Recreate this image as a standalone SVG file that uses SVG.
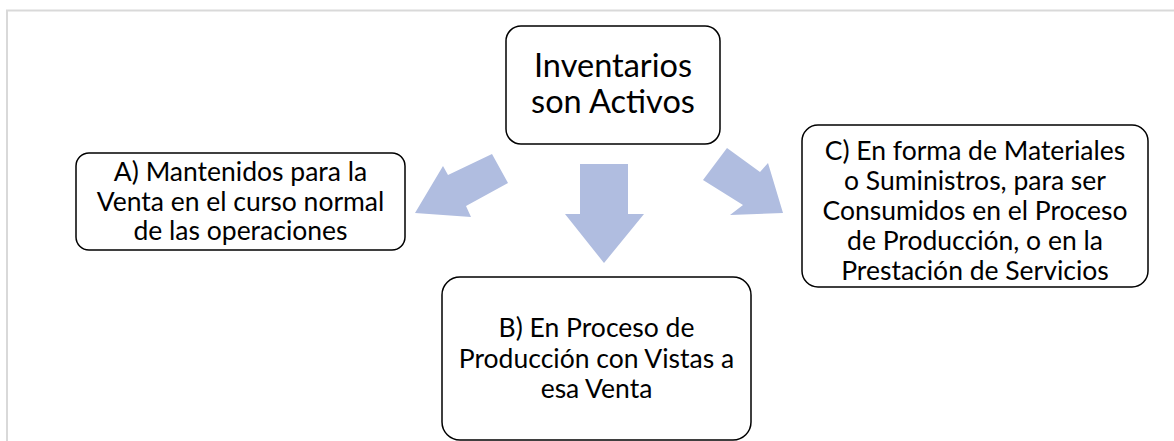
<svg xmlns="http://www.w3.org/2000/svg" width="1174" height="441" viewBox="0 0 1174 441">
<style>
.box{fill:#fff;stroke:#000;stroke-width:1.5}
.t{font-family:Lato,"Liberation Sans",sans-serif;fill:#000;text-anchor:middle}
.big{font-size:32.5px}
.sm{font-size:26.5px}
.arr{fill:#B0BDE0}
</style>
<rect width="1174" height="441" fill="#fff"/>
<path d="M7 441 V10.5 H1174" fill="none" stroke="#D9D9D9" stroke-width="2"/>
<g id="connectors">
<polygon class="arr" points="415,213 443,166 448,175 492,154 508,183 466,206 471,217"/>
<polygon class="arr" points="580,164 628,164 628,214 644,214 604,263 565,214 580,214"/>
<polygon class="arr" points="783,213 768,163 760,172 727,148 703,180 743,205 730,215"/>
</g>
<g id="top">
<rect class="box" x="506" y="26" width="214" height="118" rx="15"/>
<text class="t big" x="613" y="77">Inventarios</text>
<text class="t big" x="613" y="113">son Activos</text>
</g>
<g id="nodeA">
<rect class="box" x="76" y="153" width="329" height="97" rx="13"/>
<text class="t sm" x="240.5" y="181">A) Mantenidos para la</text>
<text class="t sm" x="240.5" y="210.5">Venta en el curso normal</text>
<text class="t sm" x="240.5" y="240">de las operaciones</text>
</g>
<g id="nodeB">
<rect class="box" x="442" y="277" width="309" height="163" rx="18"/>
<text class="t sm" x="596.5" y="337">B) En Proceso de</text>
<text class="t sm" x="596.5" y="367.5">Producción con Vistas a</text>
<text class="t sm" x="596.5" y="398">esa Venta</text>
</g>
<g id="nodeC">
<rect class="box" x="802" y="125" width="346" height="162" rx="16"/>
<text class="t sm" x="975" y="160">C) En forma de Materiales</text>
<text class="t sm" x="975" y="190">o Suministros, para ser</text>
<text class="t sm" x="975" y="220">Consumidos en el Proceso</text>
<text class="t sm" x="975" y="250">de Producción, o en la</text>
<text class="t sm" x="975" y="280">Prestación de Servicios</text>
</g>
</svg>
